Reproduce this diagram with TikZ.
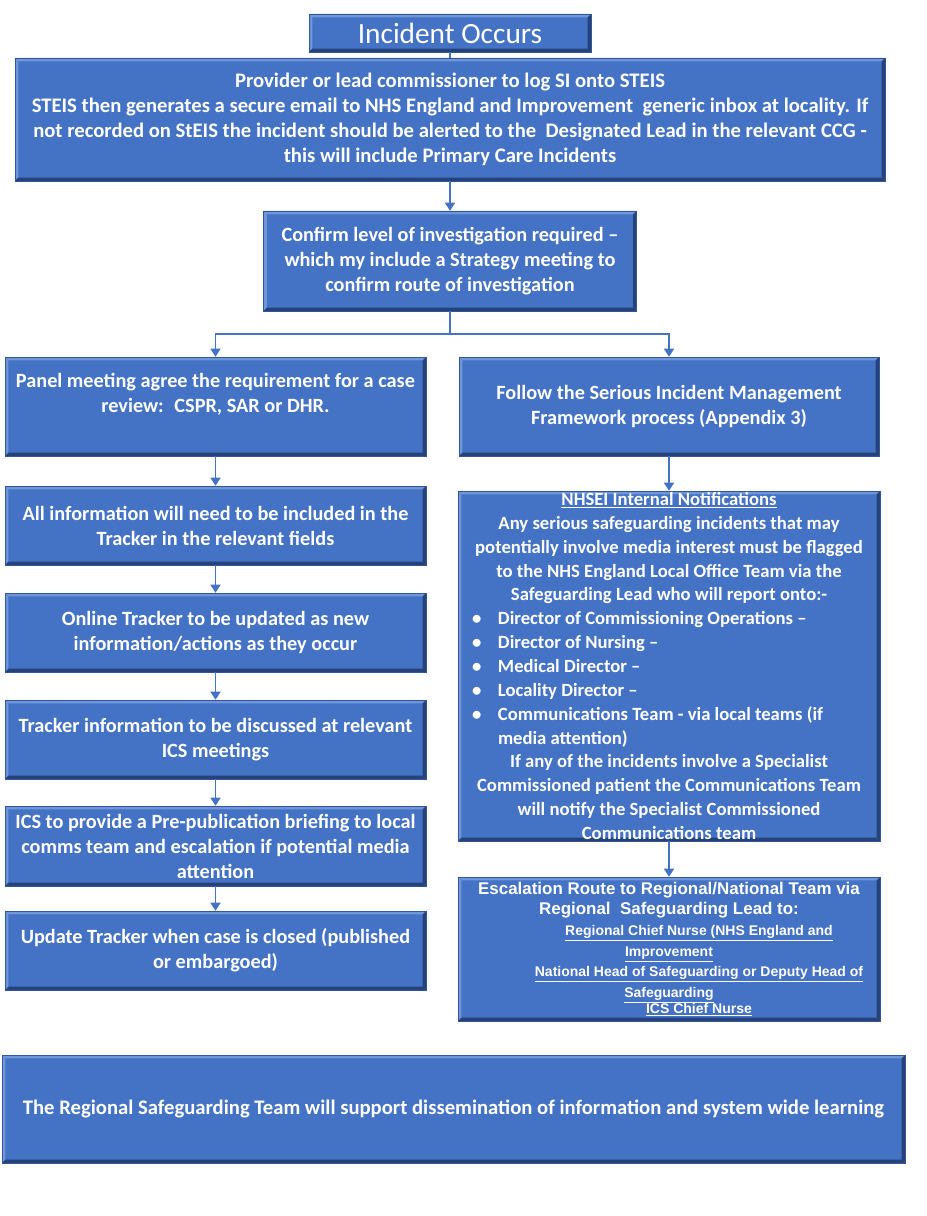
\documentclass[tikz,border=0pt]{standalone}
\usepackage{fontspec}
\setmainfont{Carlito}
\newfontfamily\escfont{Liberation Sans}
\usetikzlibrary{arrows.meta}

\definecolor{boxblue}{RGB}{68,114,196}
\definecolor{boxlight}{RGB}{112,150,218}
\definecolor{boxdark}{RGB}{38,66,122}
\definecolor{boxline}{RGB}{50,86,152}
\newcommand{\bul}[1]{\makebox[\linewidth][l]{\hspace*{6pt}\makebox[19.5pt][l]{\textbullet}#1}}

\begin{document}
\begin{tikzpicture}[x=0.75pt,y=-0.75pt,
	box/.style={draw=boxline, line width=0.4pt, fill=boxblue, text=white, align=center, inner sep=0pt,
		path picture={
			\fill[boxlight] (path picture bounding box.north west) -- (path picture bounding box.north east)
				-- ([shift={(-2.5pt,-2.5pt)}]path picture bounding box.north east) -- ([shift={(2.5pt,-2.5pt)}]path picture bounding box.north west) -- cycle;
			\fill[boxlight] (path picture bounding box.north west) -- (path picture bounding box.south west)
				-- ([shift={(2.5pt,2.5pt)}]path picture bounding box.south west) -- ([shift={(2.5pt,-2.5pt)}]path picture bounding box.north west) -- cycle;
			\fill[boxdark] (path picture bounding box.south west) -- (path picture bounding box.south east)
				-- ([shift={(-2.5pt,2.5pt)}]path picture bounding box.south east) -- ([shift={(2.5pt,2.5pt)}]path picture bounding box.south west) -- cycle;
			\fill[boxdark] (path picture bounding box.south east) -- (path picture bounding box.north east)
				-- ([shift={(-2.5pt,-2.5pt)}]path picture bounding box.north east) -- ([shift={(-2.5pt,2.5pt)}]path picture bounding box.south east) -- cycle;
		}},
	big/.style={box, font=\fontsize{15.2}{18.75}\selectfont\bfseries},
	widebox/.style={box, align=flush center, text width=307.5pt, inner xsep=4.5pt, minimum height=#1},
	leftbox/.style={big, minimum width=315.75pt, minimum height=59.25pt},
	flow/.style={color=boxblue, line width=1.1pt},
	flowarrow/.style={flow, -{Triangle[width=7.5pt,length=6pt]}}]
	\useasboundingbox (0,0) rectangle (926,1216);

	\node[box, font=\fontsize{22}{26}\selectfont, minimum width=211.5pt, minimum height=28.5pt] (incident) at (450,33) {Incident Occurs};
	\node[big, font=\fontsize{15.5}{18.75}\selectfont\bfseries, minimum width=652.5pt, minimum height=92.25pt] (log) at (450,119.5) {Provider or lead commissioner to log SI onto STEIS\\
		STEIS then generates a secure email to NHS England and Improvement~ generic inbox at locality. If\\
		not recorded on StEIS the incident should be alerted to the~ Designated Lead in the relevant CCG -\\
		this will include Primary Care Incidents};
	\node[big, minimum width=279.75pt, minimum height=75pt] (confirm) at (450,261) {Confirm level of investigation required –\\
		which my include a Strategy meeting to\\confirm route of investigation};
	\coordinate (fork) at (450,334);

	\node[leftbox, minimum height=74.25pt] (panel) at (215.5,406.5) {Panel meeting agree the requirement for a case\\review:~ CSPR, SAR or DHR.\\[1pt]\mbox{}};
	\node[leftbox] (info) at (215.5,525.5) {All information will need to be included in the\\Tracker in the relevant fields};
	\node[leftbox] (online) at (215.5,632.5) {Online Tracker to be updated as new\\information/actions as they occur};
	\node[leftbox] (discuss) at (215.5,739.5) {Tracker information to be discussed at relevant\\ICS meetings};
	\node[leftbox, minimum height=60pt] (brief) at (215.5,846) {ICS to provide a Pre-publication briefing to local\\comms team and escalation if potential media\\attention};
	\node[leftbox] (update) at (215.5,950.5) {Update Tracker when case is closed (published\\or embargoed)};

	\node[big, minimum width=315pt, minimum height=74.25pt] (simf) at (669,406.5) {Follow the Serious Incident Management\\Framework process (Appendix 3)};
	\node[widebox=262.5pt, font=\fontsize{14}{17.9}\selectfont\bfseries] (notify) at (669,666) {\underline{NHSEI Internal Notifications}\\
		Any serious safeguarding incidents that may\\
		potentially involve media interest must be flagged\\
		to the NHS England Local Office Team via the\\
		Safeguarding Lead who will report onto:-\\
		\bul{Director of Commissioning Operations –}\\
		\bul{Director of Nursing –}\\
		\bul{Medical Director –}\\
		\bul{Locality Director –}\\
		\bul{Communications Team - via local teams (if}\\
		\makebox[\linewidth][l]{\hspace*{25.5pt}media attention)}\\
		If any of the incidents involve a Specialist\\
		Commissioned patient the Communications Team\\
		will notify the Specialist Commissioned\\
		Communications team};
	\node[widebox=108pt, font=\escfont\bfseries] (escalate) at (669,949) {\fontsize{12.7}{15.4}\selectfont
		Escalation Route to Regional/National Team via\\
		Regional~ Safeguarding Lead to:\\
		\fontsize{10.5}{15.4}\selectfont
		\hspace*{45pt}\underline{Regional Chief Nurse (NHS England and}\\
		\underline{Improvement}\\
		\hspace*{45pt}\underline{National Head of Safeguarding or Deputy Head of}\\
		\underline{Safeguarding}\\
		\hspace*{45pt}\underline{ICS Chief Nurse}};

	\node[big, font=\fontsize{15.5}{18.75}\selectfont\bfseries, minimum width=677.25pt, minimum height=81pt] (learning) at (453.5,1109) {The Regional Safeguarding Team will support dissemination of information and system wide learning};

	\path [flow] (incident) edge (log);
	\path [flowarrow] (log) edge (confirm);
	\draw [flow] (confirm) -- (fork);
	\draw [flowarrow] (fork) -| (panel);
	\draw [flowarrow] (fork) -| (simf);
	\path [flowarrow] (panel) edge (info);
	\path [flowarrow] (info) edge (online);
	\path [flowarrow] (online) edge (discuss);
	\path [flowarrow] (discuss) edge (brief);
	\path [flowarrow] (brief) edge (update);
	\path [flowarrow] (simf) edge (notify);
	\path [flowarrow] (notify) edge (escalate);
\end{tikzpicture}
\end{document}
